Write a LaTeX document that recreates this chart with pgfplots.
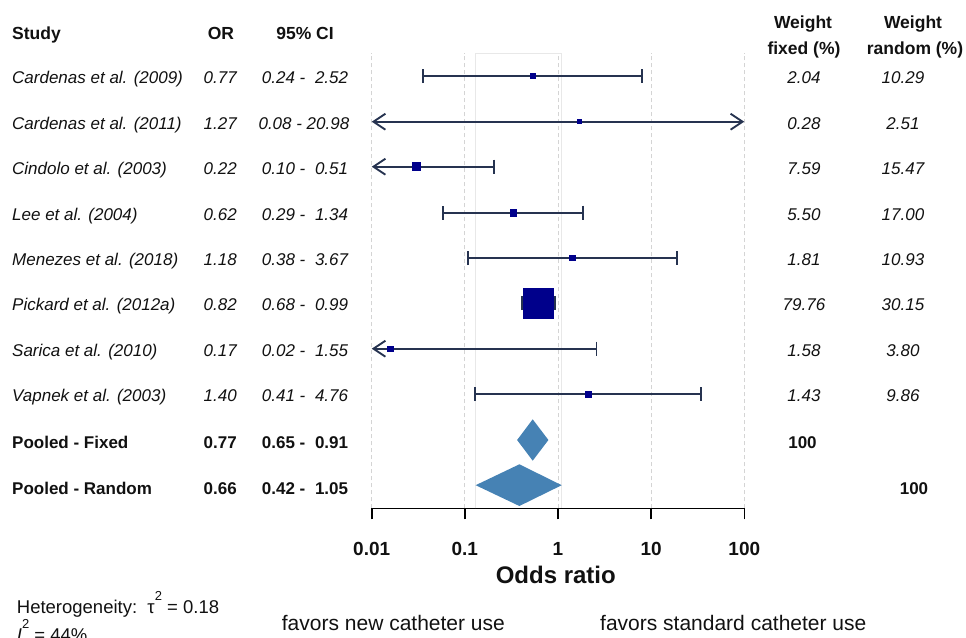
\documentclass[border=0pt]{standalone}
\usepackage{pgfplots}
\pgfplotsset{compat=1.18}
\usepackage{fontspec}
\setmainfont{Liberation Sans}
\usetikzlibrary{arrows.meta}
\definecolor{cicol}{HTML}{263350}
\definecolor{sqcol}{HTML}{00008B}
\definecolor{diacol}{HTML}{4682B4}
\definecolor{gridcol}{HTML}{D4D4D4}
\definecolor{boxcol}{HTML}{E8E8E8}
\definecolor{txt}{HTML}{111111}
\newcommand\rf{\fontsize{17}{20}\selectfont}
\newcommand\hf{\fontsize{17.5}{20}\selectfont\bfseries}
\newcommand\rowtext[8]{%
  \node[anchor=base west,inner sep=0,font=\rf#8] at (12pt,-#1pt) {#2};
  \node[anchor=base east,inner sep=0,font=\rf#8] at (237pt,-#1pt) {#3};
  \node[anchor=base west,inner sep=0,font=\rf#8] at (261.7pt,-#1pt) {#4 -};
  \node[anchor=base east,inner sep=0,font=\rf#8] at (348.3pt,-#1pt) {#5};
  \node[anchor=base,inner sep=0,font=\rf#8] at (804pt,-#1pt) {#6};
  \node[anchor=base,inner sep=0,font=\rf#8] at (903pt,-#1pt) {#7};}
\begin{document}
\begin{tikzpicture}[every node/.style={text=txt}]
\useasboundingbox (0pt,0pt) rectangle (966pt,-637pt);
\begin{axis}[
  at={(371.7pt,-508.3pt)}, anchor=south west,
  scale only axis, width=372.6pt, height=455.3pt,
  xmode=log, xmin=0.01, xmax=100, ymin=-508.3, ymax=-53,
  axis x line*=bottom, axis y line=none,
  axis line style={-, black, line width=1.6pt},
  xtick={0.01,0.1,1,10,100}, xticklabels={0.01,0.1,1,10,100},
  xminorticks=false,
  tick align=outside, major tick length=11pt,
  major tick style={black, line width=1.6pt},
  xticklabel style={font=\fontsize{19}{19}\selectfont\bfseries, anchor=base, inner sep=0pt, yshift=-35.7pt},
  xmajorgrids, major grid style={gridcol, line width=0.8pt, dash pattern=on 4pt off 3pt},
  clip=false,
  ci/.style={cicol, line width=1.9pt},
  bb/.style={arrows={Bar[width=14pt]-Bar[width=14pt]}},
  ab/.style={arrows={Straight Barb[length=12pt,width=16pt]-Bar[width=14pt]}},
  aa/.style={arrows={Straight Barb[length=12pt,width=16pt]-Straight Barb[length=12pt,width=16pt]}},
  sq/.style={only marks, mark=square*, mark options={sqcol, draw=sqcol, fill=sqcol, line width=0pt}},
]
% faint band of pooled random CI
\addplot[boxcol, line width=0.8pt] coordinates {(0.1306,-508.3) (0.1306,-53) (1.096,-53) (1.096,-508.3)};
% confidence intervals
\addplot[ci, bb] coordinates {(0.0348,-76) (8.2,-76)};
\addplot[ci, aa] coordinates {(0.01,-121.7) (100,-121.7)};
\addplot[ci, ab] coordinates {(0.01,-166.7) (0.209,-166.7)};
\addplot[ci, bb] coordinates {(0.0564,-212.7) (1.888,-212.7)};
\addplot[ci, bb] coordinates {(0.1057,-258) (19.6,-258)};
\addplot[ci, bb] coordinates {(0.402,-303) (0.944,-303)};
\addplot[ci, ab] coordinates {(0.01,-348.7) (2.65,-348.7)};
\addplot[ci, bb] coordinates {(0.1266,-394) (34.9,-394)};
% point estimates
\addplot[sq, mark size=2.85pt] coordinates {(0.540,-76)};
\addplot[sq, mark size=2.15pt] coordinates {(1.71,-121.7)};
\addplot[sq, mark size=4.15pt] coordinates {(0.0304,-166.7)};
\addplot[sq, mark size=3.35pt] coordinates {(0.332,-212.7)};
\addplot[sq, mark size=2.85pt] coordinates {(1.438,-258)};
\addplot[sq, mark size=15pt] coordinates {(0.621,-303)};
\addplot[sq, mark size=2.65pt] coordinates {(0.0159,-348.7)};
\addplot[sq, mark size=3pt] coordinates {(2.12,-394)};
% pooled diamonds
\addplot[fill=diacol, draw=none] coordinates {(0.364,-440) (0.535,-419.3) (0.789,-440) (0.535,-460.7)} --cycle;
\addplot[fill=diacol, draw=none] coordinates {(0.1306,-485.2) (0.385,-464.3) (1.096,-485.2) (0.385,-506)} --cycle;
\end{axis}
% headers
\node[anchor=base west,inner sep=0,font=\hf] at (12pt,-39.3pt) {Study};
\node[anchor=base,inner sep=0,font=\hf] at (221pt,-39.3pt) {OR};
\node[anchor=base,inner sep=0,font=\hf] at (305pt,-39.3pt) {95\% CI};
\node[anchor=base,inner sep=0,font=\hf] at (803pt,-28.3pt) {Weight};
\node[anchor=base,inner sep=0,font=\hf] at (804pt,-54.3pt) {fixed (\%)};
\node[anchor=base,inner sep=0,font=\hf] at (913pt,-28.3pt) {Weight};
\node[anchor=base,inner sep=0,font=\hf] at (915pt,-54.3pt) {random (\%)};
% rows
\rowtext{83.5}{Cardenas et al. (2009)}{0.77}{0.24}{2.52}{2.04}{10.29}{\itshape}
\node[anchor=base west,inner sep=0,font=\rf\itshape] at (12pt,-129.2pt) {Cardenas et al. (2011)};
\node[anchor=base east,inner sep=0,font=\rf\itshape] at (237pt,-129.2pt) {1.27};
\node[anchor=base east,inner sep=0,font=\rf\itshape] at (349.5pt,-129.2pt) {0.08 - 20.98};
\node[anchor=base,inner sep=0,font=\rf\itshape] at (804pt,-129.2pt) {0.28};
\node[anchor=base,inner sep=0,font=\rf\itshape] at (903pt,-129.2pt) {2.51};
\rowtext{174.2}{Cindolo et al. (2003)}{0.22}{0.10}{0.51}{7.59}{15.47}{\itshape}
\rowtext{220.2}{Lee et al. (2004)}{0.62}{0.29}{1.34}{5.50}{17.00}{\itshape}
\rowtext{265.5}{Menezes et al. (2018)}{1.18}{0.38}{3.67}{1.81}{10.93}{\itshape}
\rowtext{310.5}{Pickard et al. (2012a)}{0.82}{0.68}{0.99}{79.76}{30.15}{\itshape}
\rowtext{356.2}{Sarica et al. (2010)}{0.17}{0.02}{1.55}{1.58}{3.80}{\itshape}
\rowtext{401.5}{Vapnek et al. (2003)}{1.40}{0.41}{4.76}{1.43}{9.86}{\itshape}
\rowtext{448.3}{Pooled - Fixed}{0.77}{0.65}{0.91}{}{}{\bfseries}
\rowtext{494}{Pooled - Random}{0.66}{0.42}{1.05}{}{}{\bfseries}
\node[anchor=base,inner sep=0,font=\rf\bfseries] at (802.5pt,-448.3pt) {100};
\node[anchor=base,inner sep=0,font=\rf\bfseries] at (914pt,-494pt) {100};
% axis title and footer
\node[anchor=base,inner sep=0,font=\fontsize{24}{24}\selectfont\bfseries] at (555.8pt,-583.3pt) {Odds ratio};
\node[anchor=base west,inner sep=0,font=\fontsize{18.5}{20}\selectfont] at (16.7pt,-613.3pt) {Heterogeneity:\ \ τ\raisebox{0.68em}{\fontsize{13}{13}\selectfont 2} = 0.18};
\node[anchor=base west,inner sep=0,font=\fontsize{18.5}{20}\selectfont] at (16.7pt,-641pt) {\textit{I}\raisebox{0.68em}{\fontsize{13}{13}\selectfont 2} = 44\%};
\node[anchor=base west,inner sep=0,font=\fontsize{21}{22}\selectfont] at (281.7pt,-630.7pt) {favors new catheter use};
\node[anchor=base west,inner sep=0,font=\fontsize{21}{22}\selectfont] at (600pt,-630.7pt) {favors standard catheter use};
\end{tikzpicture}
\end{document}
